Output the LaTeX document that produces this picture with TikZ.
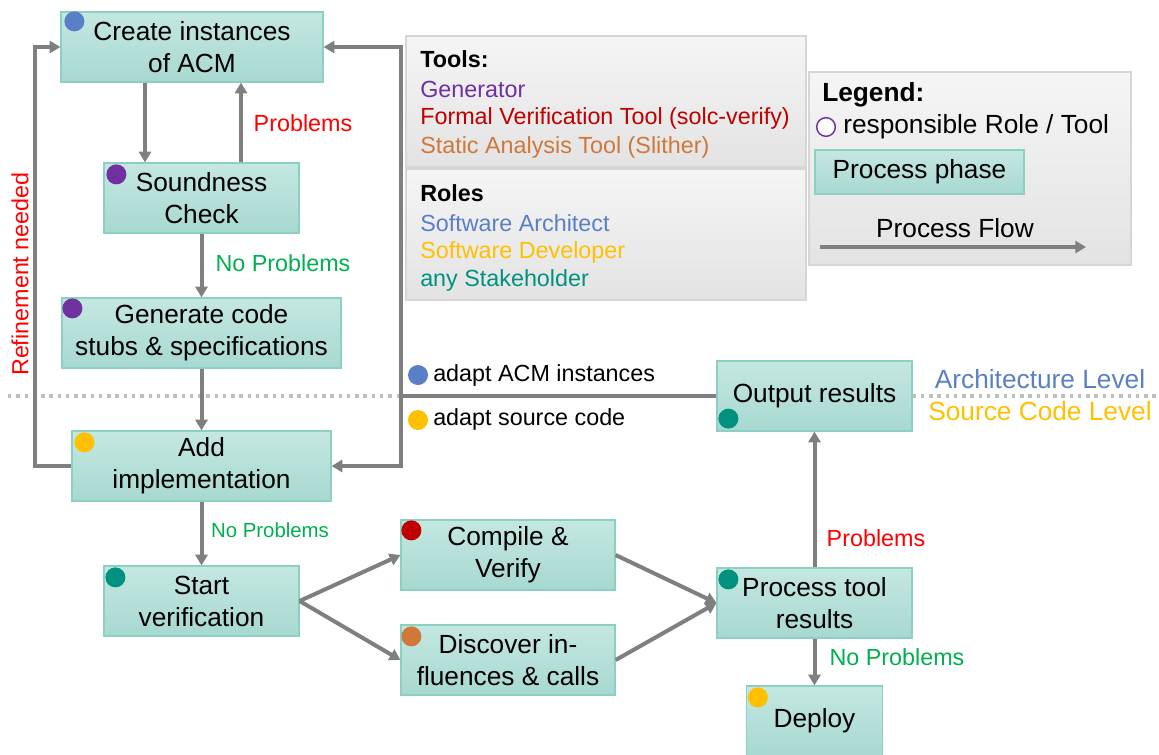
\documentclass[tikz,border=0pt]{standalone}
\usepackage{fontspec}
\setmainfont{Liberation Sans}
\usetikzlibrary{arrows.meta,calc}

\definecolor{boxtop}{HTML}{C4E7E1}
\definecolor{boxbot}{HTML}{A7D9D1}
\definecolor{boxline}{HTML}{8CD0C3}
\definecolor{flowgray}{HTML}{7F7F7F}
\definecolor{dotgray}{HTML}{BFBFBF}
\definecolor{archblue}{HTML}{5B7FC7}
\definecolor{genpurple}{HTML}{7030A0}
\definecolor{fvred}{HTML}{C00000}
\definecolor{saorange}{HTML}{D0773A}
\definecolor{devyellow}{HTML}{FFC000}
\definecolor{stteal}{HTML}{00927F}
\definecolor{okgreen}{HTML}{00B050}
\definecolor{badred}{HTML}{FF0000}
\definecolor{legtop}{HTML}{F5F5F5}
\definecolor{legbot}{HTML}{E3E3E3}
\definecolor{legline}{HTML}{D6D6D6}

\newcommand{\phasefont}{\fontsize{19.7}{24}\selectfont}
\newcommand{\notefont}{\fontsize{17.5}{21.8}\selectfont}
\newcommand{\minorfont}{\fontsize{15.3}{18}\selectfont}

\tikzset{
  phase/.style={draw=boxline, line width=0.9pt, top color=boxtop, bottom color=boxbot,
    align=center, font=\phasefont, inner sep=0pt, minimum height=52.5pt},
  role/.style={circle, inner sep=0pt, minimum size=15pt},
  flow/.style={draw=flowgray, line width=3pt, -{Triangle[length=8pt,width=9pt]}},
  flowline/.style={draw=flowgray, line width=3pt},
  level/.style={draw=dotgray, line width=2.5pt, dash pattern=on 2.6pt off 3.6pt},
  legendbox/.style={draw=legline, line width=0.8pt, top color=legtop, bottom color=legbot, inner sep=0pt},
  note/.style={font=\notefont, anchor=west, inner sep=0pt},
  bignote/.style={font=\phasefont, anchor=west, inner sep=0pt},
  cond/.style={font=\notefont, inner sep=0pt},
}

\begin{document}
\begin{tikzpicture}[x=0.75pt, y=-0.75pt]
\useasboundingbox (0,0) rectangle (1159,754);

% ---------- legend panels ----------
\node[legendbox, minimum width=300pt, minimum height=98.25pt] (tools) at (606,101.5) {};
\node[legendbox, minimum width=300pt, minimum height=98.25pt] (roles) at (606,234.5) {};
\node[legendbox, minimum width=241.5pt, minimum height=144.75pt] (legend) at (970,168.5) {};

\node[note, font=\notefont\bfseries] (toolsT) at (420,59) {Tools:};
\node[note, text=genpurple] (tGen) at (420,89) {Generator};
\node[note, text=fvred] (tFV) at (420,118) {Formal Verification Tool (solc-verify)};
\node[note, text=saorange] (tSA) at (420,147) {Static Analysis Tool (Slither)};

\node[note, font=\notefont\bfseries] (rolesT) at (420,193) {Roles};
\node[note, text=archblue] (rArch) at (420,223) {Software Architect};
\node[note, text=devyellow] (rDev) at (420,252) {Software Developer};
\node[note, text=stteal] (rAny) at (420,280) {any Stakeholder};

\node[bignote, font=\phasefont\bfseries] (legT) at (822,95) {Legend:};
\node[circle, draw=genpurple, fill=white, line width=1.1pt, inner sep=0pt, minimum size=14pt] (legC) at (826,127) {};
\node[bignote] (legR) at (843,127) {responsible Role / Tool};
\node[phase, minimum width=156.75pt, minimum height=33pt] (legP) at (919.5,172) {Process phase};
\node[font=\phasefont, inner sep=0pt] (legF) at (955,228) {Process Flow};
\coordinate (legA1) at (820,247);
\coordinate (legA2) at (1086,247);
\draw[flow] (legA1) -- (legA2);

% ---------- level separator ----------
\coordinate (lvlL) at (8,396);
\coordinate (lvlR) at (1159,396);
\coordinate (xr) at (401,0);
\coordinate (xl) at (35,0);
\coordinate (xa) at (145,0);
\coordinate (xb) at (241,0);

% ---------- process phases ----------
\node[phase, minimum width=196.5pt]  (create) at (192,47)    {Create instances\\of ACM};
\node[phase, minimum width=146.25pt] (sound)  at (201.5,198) {Soundness\\Check};
\node[phase, minimum width=209.25pt] (gen)    at (201.5,333) {Generate code\\stubs \& specifications};
\node[phase, minimum width=194.25pt] (add)    at (201.5,466) {Add\\implementation};
\node[phase, minimum width=146.25pt] (start)  at (201.5,601) {Start\\verification};
\node[phase, minimum width=160.5pt]  (comp)   at (508,555)   {Compile \&\\Verify};
\node[phase, minimum width=160.5pt]  (disc)   at (508,660)   {Discover in-\\fluences \& calls};
\node[phase, minimum width=146.25pt] (proc)   at (814.5,603) {Process tool\\results};
\node[phase, minimum width=102pt]    (dep)    at (814.5,721) {Deploy};
\node[phase, minimum width=146.25pt] (out)    at (814.5,396) {Output results};

\draw[level] (lvlL) -- (out.west -| xr);
\draw[level] (out.east) -- (lvlR);

% ---------- responsible roles / tools ----------
\node[role, fill=archblue]   (rc1) at ($(create.north west)+(14,10)$) {};
\node[role, fill=genpurple]  (rc2) at ($(sound.north west)+(13,12)$) {};
\node[role, fill=genpurple]  (rc3) at ($(gen.north west)+(11,11)$) {};
\node[role, fill=devyellow]  (rc4) at ($(add.north west)+(13,12)$) {};
\node[role, fill=stteal]     (rc5) at ($(start.north west)+(12,12)$) {};
\node[role, fill=fvred]      (rc6) at ($(comp.north west)+(11,11)$) {};
\node[role, fill=saorange]   (rc7) at ($(disc.north west)+(11,12)$) {};
\node[role, fill=stteal]     (rc8) at ($(proc.north west)+(12,12)$) {};
\node[role, fill=devyellow]  (rc9) at ($(dep.north west)+(12,12)$) {};
\node[role, fill=stteal]     (rc10) at ($(out.south west)+(12,-13)$) {};

% ---------- process flow ----------
\draw[flow] (create.south -| xa) -- (sound.north -| xa);
\draw[flow] (sound.north -| xb) -- (create.south -| xb);
\draw[flow] (sound.south) -- (gen.north);
\draw[flow] (gen.south) -- (add.north);
\draw[flow] (add.west) -- (add.west -| xl) -- (create.west -| xl) -- (create.west);
\draw[flowline] (out.west) -- (out.west -| xr);
\draw[flow] (out.west -| xr) -- (create.east -| xr) -- (create.east);
\draw[flow] (out.west -| xr) -- (add.east -| xr) -- (add.east);
\draw[flow] (add.south) -- (start.north);
\draw[flow] (start.east) -- (comp.west);
\draw[flow] (start.east) -- (disc.west);
\draw[flow] (comp.east) -- (proc.west);
\draw[flow] (disc.east) -- (proc.west);
\draw[flow] (proc.north) -- (out.south);
\draw[flow] (proc.south) -- (dep.north);

% ---------- flow conditions ----------
\node[cond, text=badred]  (p1) at (303,123) {Problems};
\node[cond, text=okgreen] (n1) at (283,263) {No Problems};
\node[cond, font=\minorfont, text=okgreen] (n2) at (270,530) {No Problems};
\node[cond, text=badred]  (p2) at (876,538) {Problems};
\node[cond, text=okgreen] (n3) at (897,657) {No Problems};
\node[cond, text=badred, rotate=90] (refine) at (20,274) {Refinement needed};

\node[role, fill=archblue]  (ra) at (418,375) {};
\node[note] (adaptA) at (433,375) {adapt ACM instances};
\node[role, fill=devyellow] (rs) at (418,420) {};
\node[note] (adaptS) at (433,419) {adapt source code};

\node[font=\phasefont, text=archblue, inner sep=0pt]  (archL) at (1040,379) {Architecture Level};
\node[font=\phasefont, text=devyellow, inner sep=0pt] (srcL)  at (1040,411) {Source Code Level};
\end{tikzpicture}
\end{document}
